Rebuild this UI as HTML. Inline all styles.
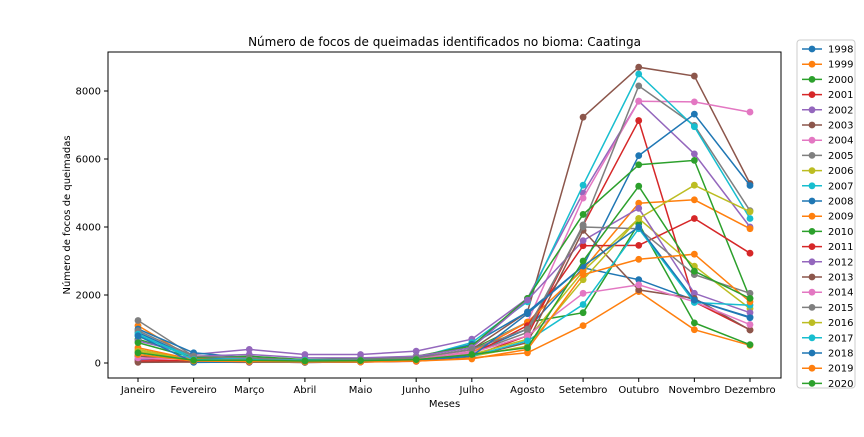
<!DOCTYPE html>
<html><head><meta charset="utf-8"><style>
body{margin:0;background:#fff;font-family:"Liberation Sans","DejaVu Sans",sans-serif}
svg text{font-family:"DejaVu Sans","Liberation Sans",sans-serif}
</style></head><body>
<svg id="chart" width="864" height="432"></svg>
<script>
const months=["Janeiro","Fevereiro","Março","Abril","Maio","Junho","Julho","Agosto","Setembro","Outubro","Novembro","Dezembro"];
const years=["1998","1999","2000","2001","2002","2003","2004","2005","2006","2007","2008","2009","2010","2011","2012","2013","2014","2015","2016","2017","2018","2019","2020"];
const yTicks=[0,2000,4000,6000,8000];
const s1998=[900,150,100,50,80,100,300,1000,2800,2450,1850,1350];
const s1999=[1100,120,60,30,40,60,150,300,1100,2100,980,520];
const s2000=[700,200,150,80,100,120,400,1200,1480,4100,1180,540];
const s2001=[100,50,30,20,30,50,200,800,4050,7130,1800,975];
const s2002=[650,250,400,250,250,350,700,1900,5000,7700,6150,4000];
const s2003=[200,100,80,60,100,150,400,1500,7230,8700,8440,5280];
const s2004=[300,100,80,60,80,120,350,1200,4850,7700,7680,7380];
const s2005=[1250,200,100,60,80,100,300,900,4060,8150,6990,4480];
const s2006=[400,80,60,40,50,80,250,700,2700,4250,2850,1600];
const s2007=[800,180,120,80,100,150,600,1800,5230,8500,6950,4250];
const s2008=[1000,300,150,80,100,150,550,1500,2850,6100,7320,5220];
const s2009=[450,100,80,50,60,100,300,1200,2750,4700,4800,3950];
const s2010=[600,150,200,100,120,200,500,1900,4370,5830,5960,1900];
const s2011=[50,30,20,30,40,60,250,1100,3450,3460,4250,3230];
const s2012=[100,200,250,150,150,200,450,1850,3600,4550,2050,1480];
const s2013=[20,30,30,20,30,60,200,600,3900,2150,1900,970];
const s2014=[150,100,80,60,80,100,300,800,2050,2300,1800,1130];
const s2015=[950,200,150,80,100,150,400,1000,4000,3950,2600,2050];
const s2016=[350,80,60,40,50,80,200,500,2450,4250,5230,4450];
const s2017=[850,100,80,80,70,100,200,650,1720,3950,1780,1700];
const s2018=[800,20,30,20,30,80,200,1450,2850,4000,1850,1330];
const s2019=[250,60,40,30,30,60,120,400,2600,3050,3200,1800];
const s2020=[300,80,80,60,70,100,250,450,3000,5200,2700,1900];
const series=[s1998,s1999,s2000,s2001,s2002,s2003,s2004,s2005,s2006,s2007,s2008,s2009,s2010,s2011,s2012,s2013,s2014,s2015,s2016,s2017,s2018,s2019,s2020];
const colors=["#1f77b4","#ff7f0e","#2ca02c","#d62728","#9467bd","#8c564b","#e377c2","#7f7f7f","#bcbd22","#17becf"];
const NS="http://www.w3.org/2000/svg";
const svg=document.getElementById('chart');
const L=108,R=781,T=52,B=378;
const xs=i=>138+i*(750-138)/11;
const ys=v=>363-v*0.034;
function mk(tag,attrs){const e=document.createElementNS(NS,tag);for(const k in attrs)e.setAttribute(k,attrs[k]);svg.appendChild(e);return e;}
yTicks.forEach(v=>{
 const l=mk('line',{x1:L-4,x2:L,y1:ys(v),y2:ys(v),stroke:'#000'});
 
 
 const t=mk('text',{x:L-7,y:ys(v)+3.5,'text-anchor':'end','font-size':10});
 t.textContent=v;
 
 
});
months.forEach((m,i)=>{
 const l=mk('line',{x1:xs(i),x2:xs(i),y1:B,y2:B+4,stroke:'#000'});
 
 
 const t=mk('text',{x:xs(i),y:B+15,'text-anchor':'middle','font-size':10});
 t.textContent=m;
 
 
});
series.forEach((s,k)=>{
 const c=colors[k%10];
 const p=mk('polyline',{points:s.map((v,i)=>xs(i)+','+ys(v)).join(' '),fill:'none',stroke:c,'stroke-width':1.5});
 
 
 s.forEach((v,i)=>{
  const d=mk('circle',{cx:xs(i),cy:ys(v),r:3.4,fill:c});
  
  
 });
});
const fr=mk('rect',{x:L,y:T,width:R-L,height:B-T,fill:'none',stroke:'#000','stroke-width':1});


const ti=mk('text',{x:(L+R)/2,y:46,'text-anchor':'middle','font-size':12});
ti.textContent='Número de focos de queimadas identificados no bioma: Caatinga';


const xt=mk('text',{x:(L+R)/2,y:407,'text-anchor':'middle','font-size':10});
xt.textContent='Meses';


const yt=mk('text',{x:70,y:215,'text-anchor':'middle','font-size':10,transform:'rotate(-90 70 215)'});
yt.textContent='Número de focos de queimadas';


const lb=mk('rect',{x:797,y:40,width:58,height:348,rx:3,fill:'#fff',stroke:'#ccc'});


years.forEach((y,k)=>{
 const c=colors[k%10],yy=49+k*15.2;
 const l=mk('line',{x1:802,x2:822,y1:yy,y2:yy,stroke:c,'stroke-width':1.5});
 
 
 const d=mk('circle',{cx:812,cy:yy,r:3.4,fill:c});
 
 
 const t=mk('text',{x:828,y:yy+3.5,'font-size':10});
 t.textContent=y;
 
 
});
</script>
</body></html>
